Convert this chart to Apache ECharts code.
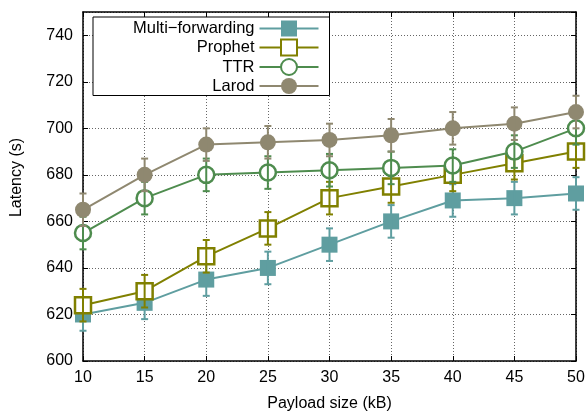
<!DOCTYPE html>
<html>
<head>
<meta charset="utf-8">
<script src="https://cdn.jsdelivr.net/npm/echarts@6/dist/echarts.min.js"></script>
<style>
html,body{margin:0;padding:0;background:#fff;}
#chart{width:588px;height:412px;}
</style>
</head>
<body>
<div id="chart"></div>
<script>
const payloads = [10, 15, 20, 25, 30, 35, 40, 45, 50];
const seriesNames = ['Multi\u2212forwarding', 'Prophet', 'TTR', 'Larod'];
const multiForwarding = [620, 625, 635, 640, 650, 660, 669, 670, 672];
const prophet = [624, 630, 645, 657, 670, 675, 680, 685, 690];
const ttr = [655, 670, 680, 681, 682, 683, 684, 690, 700];
const larod = [665, 680, 693, 694, 695, 697, 700, 702, 707];
const multiErr = [7, 7, 7, 7, 7, 7, 7, 7, 7];
const prophetErr = [7, 7, 7, 7, 7, 7, 7, 7, 7];
const ttrErr = [7, 7, 7, 7, 7, 7, 7, 7, 7];
const larodErr = [7, 7, 7, 7, 7, 7, 7, 7, 7];
const yTicks = [600, 620, 640, 660, 680, 700, 720, 740];

const FONT = 'Liberation Sans, Arial, Helvetica, sans-serif';
const colors = ['#5f9ea0', '#808000', '#4e8c4e', '#8f8870'];
const values = [multiForwarding, prophet, ttr, larod];
const errs = [multiErr, prophetErr, ttrErr, larodErr];
const symbols = ['rect', 'rect', 'circle', 'circle'];
const filled = [true, false, false, true];

const chart = echarts.init(document.getElementById('chart'), null, {renderer: 'canvas'});

const series = [];
values.forEach((vals, k) => {
  const c = colors[k];
  series.push({
    type: 'line',
    name: seriesNames[k],
    data: payloads.map((x, i) => [x, vals[i]]),
    symbol: symbols[k],
    symbolSize: 16,
    showSymbol: true,
    lineStyle: {color: c, width: 2},
    itemStyle: filled[k]
      ? {color: c, borderColor: c, borderWidth: 0}
      : {color: '#ffffff', borderColor: c, borderWidth: 2.5},
    z: 2 + k * 2,
    animation: false
  });
  series.push({
    type: 'custom',
    name: seriesNames[k] + ' err',
    silent: true,
    z: 3 + k * 2,
    data: payloads.map((x, i) => [x, vals[i] - errs[k][i], vals[i] + errs[k][i]]),
    encode: {x: 0, y: [1, 2]},
    renderItem: function (params, api) {
      const x = api.value(0);
      const lo = api.coord([x, api.value(1)]);
      const hi = api.coord([x, api.value(2)]);
      const hw = 3.5;
      const st = {stroke: c, lineWidth: 2};
      return {
        type: 'group',
        children: [
          {type: 'line', shape: {x1: lo[0], y1: lo[1], x2: hi[0], y2: hi[1]}, style: st},
          {type: 'line', shape: {x1: lo[0] - hw, y1: lo[1], x2: lo[0] + hw, y2: lo[1]}, style: st},
          {type: 'line', shape: {x1: hi[0] - hw, y1: hi[1], x2: hi[0] + hw, y2: hi[1]}, style: st}
        ]
      };
    },
    animation: false
  });
});

const axisLineStyle = {color: '#000', width: 1.5};
const option = {
  backgroundColor: '#ffffff',
  animation: false,
  textStyle: {fontFamily: FONT},
  grid: {left: 83, right: 12, top: 12, bottom: 51, containLabel: false, outerBoundsMode: 'none'},
  legend: {
    data: seriesNames,
    orient: 'vertical',
    align: 'right',
    left: 93,
    top: 17,
    itemWidth: 59,
    itemHeight: 20,
    itemGap: 1.5,
    padding: [3, 10, 1, 40],
    backgroundColor: '#ffffff',
    borderColor: '#000',
    borderWidth: 1,
    borderRadius: 0,
    textStyle: {fontFamily: FONT, fontSize: 16.5, color: '#000'},
    selectedMode: false
  },
  xAxis: [{
    type: 'value',
    min: 10, max: 50, interval: 5,
    name: 'Payload size (kB)',
    nameLocation: 'middle',
    nameGap: 35,
    nameTextStyle: {fontFamily: FONT, fontSize: 16, color: '#000'},
    axisLine: {show: true, lineStyle: axisLineStyle},
    axisTick: {show: true, inside: true, length: 5, lineStyle: {color: '#000', width: 1}},
    axisLabel: {fontFamily: FONT, fontSize: 16, color: '#000', margin: 9},
    splitLine: {show: true, lineStyle: {color: '#666', width: 1, type: [1, 2]}}
  }, {
    type: 'value',
    position: 'top',
    min: 10, max: 50, interval: 5,
    axisLine: {show: true, lineStyle: axisLineStyle},
    axisTick: {show: true, inside: true, length: 5, lineStyle: {color: '#000', width: 1}},
    axisLabel: {show: false},
    splitLine: {show: false}
  }],
  yAxis: [{
    type: 'value',
    min: 600, max: 750, interval: 20,
    name: 'Latency (s)',
    nameLocation: 'middle',
    nameGap: 58,
    nameTextStyle: {fontFamily: FONT, fontSize: 16, color: '#000', padding: [0, 0, 0, 18]},
    axisLine: {show: true, lineStyle: axisLineStyle},
    axisTick: {show: true, inside: true, length: 5, lineStyle: {color: '#000', width: 1}},
    axisLabel: {
      fontFamily: FONT, fontSize: 16, color: '#000', margin: 10, showMaxLabel: false,
      formatter: function (v) { return yTicks.indexOf(v) >= 0 ? String(v) : ''; }
    },
    splitLine: {show: true, lineStyle: {color: '#666', width: 1, type: [1, 2]}}
  }, {
    type: 'value',
    position: 'right',
    min: 600, max: 750, interval: 20,
    axisLine: {show: true, lineStyle: axisLineStyle},
    axisTick: {show: true, inside: true, length: 5, lineStyle: {color: '#000', width: 1}},
    axisLabel: {show: false},
    splitLine: {show: false}
  }],
  series: series
};
chart.setOption(option);
</script>
</body>
</html>
